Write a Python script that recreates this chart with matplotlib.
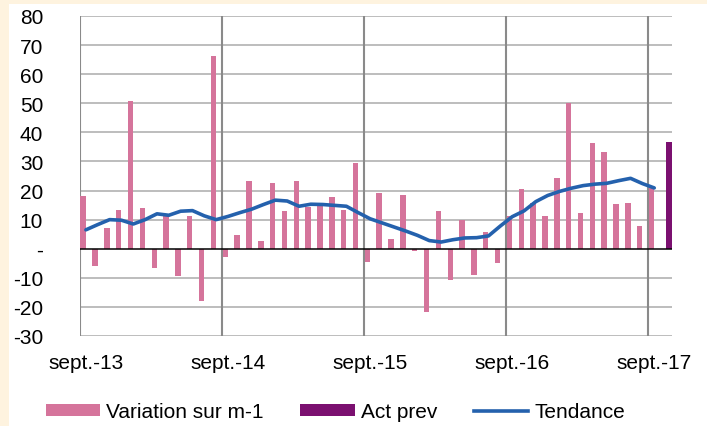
import matplotlib
matplotlib.use("Agg")
import matplotlib.pyplot as plt
from matplotlib.patches import Patch, Rectangle
from matplotlib.lines import Line2D
import numpy as np

plt.rcParams['font.family'] = ['Liberation Sans', 'DejaVu Sans']

# Monthly categories: sept-13 (index 0) ... oct-17 (index 49)
n_cat = 50
tick_pos = [0, 12, 24, 36, 48]
tick_labels = ["sept.-13", "sept.-14", "sept.-15", "sept.-16", "sept.-17"]

variation = [18.2, -6.1, 7.1, 13.4, 50.8, 14.0, -6.6, 11.3, -9.5, 11.3, -17.8, 66.2,
             -2.8, 4.6, 23.2, 2.8, 22.6, 13.0, 23.2, 14.3, 15.4, 17.8, 13.4, 29.3,
             -4.4, 19.3, 3.4, 18.4, -0.9, -21.6, 12.8, -10.6, 10.0, -9.2, 5.6, -4.9,
             11.3, 20.5, 15.7, 11.1, 24.4, 50.0, 12.3, 36.2, 33.4, 15.3, 15.7, 7.9,
             21.5]
act_prev_index = [49]
act_prev = [36.6]
tendance = [6.5, 8.3, 10.0, 9.8, 8.5, 10.0, 12.0, 11.5, 12.9, 13.1, 11.3, 10.0,
            11.1, 12.4, 13.6, 15.2, 16.7, 16.4, 14.6, 15.3, 15.2, 14.9, 14.6, 12.4,
            10.3, 8.9, 7.5, 6.1, 4.6, 2.8, 2.3, 3.1, 3.7, 3.8, 4.4, 7.8,
            11.0, 13.0, 16.2, 18.3, 19.7, 20.8, 21.7, 22.2, 22.5, 23.4, 24.2, 22.4,
            20.9]

pink = "#D5749B"
purple = "#7B1070"
blue = "#2461AD"
cream = "#FEF3DF"
fs = 15

fig = plt.figure(figsize=(7.07, 4.27), dpi=100, facecolor=cream)
fig.patches.append(Rectangle((9/707, 0), 1, 1 - 5/427, transform=fig.transFigure,
                             facecolor="white", edgecolor="none", zorder=-10))

ax = fig.add_axes([80/707, 1 - 337/427, 592/707, 320/427])
ax.set_facecolor("white")

x_var = np.arange(len(variation))
ax.bar(x_var - 0.23, variation, width=0.46, color=pink, zorder=3)
ax.bar(np.array(act_prev_index) + 0.23, act_prev, width=0.46, color=purple, zorder=3)
ax.plot(np.arange(len(tendance)), tendance, color=blue, lw=2.6, zorder=4,
        solid_joinstyle='round', solid_capstyle='round')

ax.set_xlim(-0.5, n_cat - 0.5)
ax.set_ylim(-30, 80)
yt = list(range(-30, 81, 10))
ax.set_yticks(yt)
ax.set_yticklabels([("-" if v == 0 else str(v)) for v in yt])
ax.set_xticks(tick_pos)
ax.set_xticklabels(tick_labels)

for v in yt:
    if v != 0:
        ax.axhline(v, color="#ABABAB", lw=1.1, zorder=1)
ax.axhline(0, color="black", lw=1.1, zorder=5)
for b in [-0.5, 11.5, 23.5, 35.5, 47.5]:
    ax.axvline(b, color="#8A8A8A", lw=1.5, zorder=2)

for s in ax.spines.values():
    s.set_visible(False)

ax.tick_params(axis='y', length=0, pad=26.5, labelsize=fs)
ax.tick_params(axis='x', length=0, pad=12, labelsize=fs)
for lbl in ax.get_yticklabels():
    lbl.set_horizontalalignment('right')

handles = [Patch(facecolor=pink, edgecolor='none'),
           Patch(facecolor=purple, edgecolor='none'),
           Line2D([0], [0], color=blue, lw=2.6)]
labels = ["Variation sur m-1", "Act prev", "Tendance"]
leg = fig.legend(handles, labels, loc='center left', bbox_to_anchor=(46/707, 1 - 413/427),
                 ncol=3, frameon=False, fontsize=fs, handlelength=2.6,
                 handleheight=0.55, handletextpad=0.3, columnspacing=1.75,
                 borderaxespad=0, borderpad=0)

fig.savefig("out.png", dpi=100, facecolor=cream)
